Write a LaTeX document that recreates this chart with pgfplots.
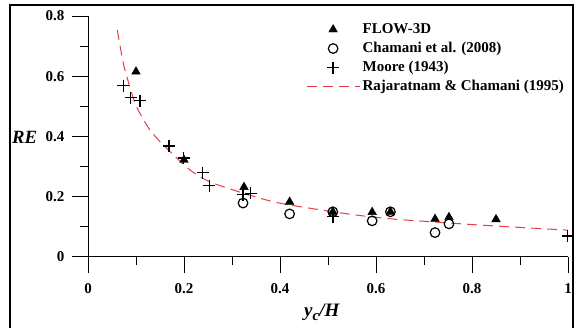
\documentclass[border=0pt]{standalone}
\usepackage{pgfplots}
\pgfplotsset{compat=1.18}
\usepackage{fontspec}
\setmainfont{Liberation Serif}
\definecolor{rcurve}{RGB}{235,60,70}
\begin{document}
\begin{tikzpicture}[x=1pt,y=1pt]
\useasboundingbox (0,0) rectangle (579,328);
\draw[line width=2pt] (10,-10) rectangle (573,323);
\begin{axis}[
  at={(88pt,71pt)}, anchor=origin,
  scale only axis, width=480pt, height=241pt,
  xmin=0, xmax=1, ymin=0, ymax=0.8,
  axis x line=bottom, axis y line=left,
  axis line style={-, line width=1pt},
  xtick={0,0.2,0.4,0.6,0.8,1},
  ytick={0,0.2,0.4,0.6,0.8},
  minor tick num=1,
  tick align=outside,
  major tick length=16pt, minor tick length=8pt,
  tick style={line width=1pt, black},
  /pgf/number format/assume math mode=true,
  ticklabel style={font=\fontsize{15}{18}\selectfont\bfseries},
  yticklabel style={xshift=-4pt},
  xticklabel style={yshift=-7pt},
  xlabel={\textbf{\textit{y}{\fontsize{15}{15}\selectfont\raisebox{-4pt}{\textit{c}}}\textit{/H}}},
  ylabel={\textbf{\textit{RE}}},
  xlabel style={font=\fontsize{19}{20}\selectfont, at={(axis description cs:0.4875,-0.249)}, anchor=base},
  ylabel style={font=\fontsize{18.7}{20}\selectfont, rotate=-90, at={(axis description cs:-0.132,0.472)}, anchor=base},
  legend style={at={(axis description cs:0.454,0.98)}, anchor=north west, draw=none, fill=none,
    inner xsep=0pt, inner ysep=0pt, font=\fontsize{15}{17}\selectfont\bfseries,
    nodes={inner ysep=1pt, inner xsep=2.5pt, text height=11pt, text depth=4pt},
    cells={anchor=west}, row sep=2pt},
  legend image code/.code={\draw[mark repeat=2,mark phase=2,#1] plot coordinates {(0pt,0pt) (26.5pt,0pt) (53pt,0pt)};},
  clip=false,
]
\addplot[only marks, mark=triangle*, mark size=5pt, black] coordinates {
(0.1,0.615) (0.2,0.322) (0.325,0.232) (0.42,0.183) (0.51,0.15) (0.592,0.149) (0.63,0.15) (0.723,0.126) (0.752,0.132) (0.85,0.125)
};
\addlegendentry{FLOW-3D}
\addplot[only marks, mark=o, mark size=4.8pt, black, line width=1.2pt] coordinates {
(0.323,0.179) (0.42,0.143) (0.51,0.15) (0.592,0.12) (0.63,0.15) (0.723,0.081) (0.752,0.11)
};
\addlegendentry{Chamani et al. (2008)}
\addplot[only marks, mark=+, mark size=6pt, black, line width=1.5pt] coordinates {
(0.0736,0.569) (0.089,0.529) (0.108,0.519) (0.169,0.369) (0.199,0.328) (0.239,0.28) (0.253,0.237) (0.323,0.207) (0.339,0.211) (0.51,0.134) (0.999,0.07)
};
\addlegendentry{Moore (1943)}
\addplot[rcurve, line width=1pt, dash pattern=on 10pt off 6pt, smooth, mark=none] coordinates {
(0.061,0.754) (0.0736,0.643) (0.086,0.571) (0.098,0.51) (0.112,0.466) (0.129,0.422) (0.15,0.383) (0.171,0.35) (0.2125,0.289) (0.261,0.245) (0.372,0.189) (0.442,0.167) (0.56,0.139) (0.636,0.126) (0.678,0.121) (0.817,0.106) (1.0,0.089)
};
\addlegendentry{Rajaratnam \& Chamani (1995)}
\end{axis}
\end{tikzpicture}
\end{document}
